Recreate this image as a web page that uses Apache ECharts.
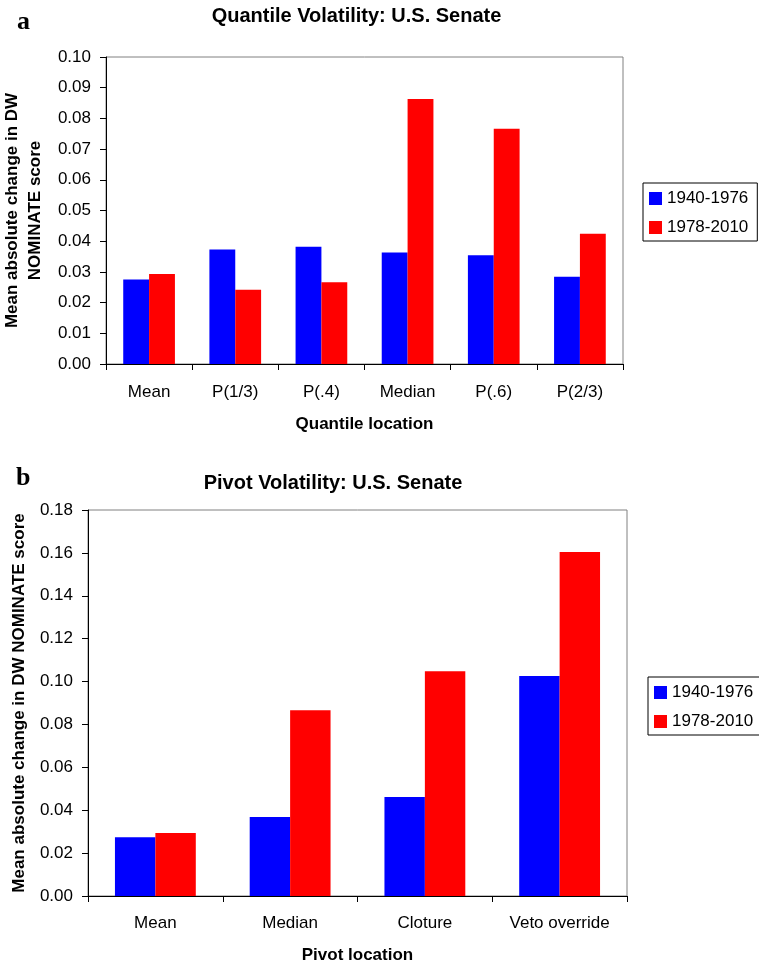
<!DOCTYPE html>
<html>
<head>
<meta charset="utf-8">
<script src="https://cdn.jsdelivr.net/npm/echarts@6/dist/echarts.min.js"></script>
<style>
html,body{margin:0;padding:0;background:#fff;}
#chart{width:759px;height:966px;}
</style>
</head>
<body>
<div id="chart"></div>
<script>
const seriesNames = ['1940-1976', '1978-2010'];
const categoriesA = ['Mean', 'P(1/3)', 'P(.4)', 'Median', 'P(.6)', 'P(2/3)'];
const blueA = [0.0275, 0.0373, 0.0382, 0.0363, 0.0354, 0.0284];
const redA = [0.0293, 0.0242, 0.0266, 0.0863, 0.0766, 0.0424];
const categoriesB = ['Mean', 'Median', 'Cloture', 'Veto override'];
const blueB = [0.0274, 0.0368, 0.0462, 0.1026];
const redB = [0.0294, 0.0866, 0.1048, 0.1604];
const yTicksA = [0, 0.01, 0.02, 0.03, 0.04, 0.05, 0.06, 0.07, 0.08, 0.09, 0.10];
const yTicksB = [0, 0.02, 0.04, 0.06, 0.08, 0.10, 0.12, 0.14, 0.16, 0.18];

const FONT = 'Liberation Sans, Arial, sans-serif';
const chart = echarts.init(document.getElementById('chart'), null, {renderer: 'canvas'});

function xAxisCfg(gi, data, name, margin, gap) {
  return {
    type: 'category', gridIndex: gi, data: data,
    axisLine: {show: true, lineStyle: {color: '#000', width: 1}},
    axisTick: {show: true, length: 6, lineStyle: {color: '#000'}},
    axisLabel: {margin: margin, color: '#000', fontSize: 17, fontFamily: FONT, lineHeight: 20, interval: 0},
    splitLine: {show: false},
    name: name, nameLocation: 'middle', nameGap: gap,
    nameTextStyle: {fontWeight: 'bold', fontSize: 17, color: '#000', fontFamily: FONT, lineHeight: 20}
  };
}
function yAxisCfg(gi, ticks, name, gap, lh) {
  return {
    type: 'value', gridIndex: gi,
    min: ticks[0], max: ticks[ticks.length - 1], interval: ticks[1] - ticks[0],
    axisLine: {show: true, lineStyle: {color: '#000', width: 1}},
    axisTick: {show: true, length: 6, lineStyle: {color: '#000'}},
    axisLabel: {margin: 15, color: '#000', fontSize: 17, fontFamily: FONT, formatter: v => v.toFixed(2)},
    splitLine: {show: false},
    name: name, nameLocation: 'middle', nameGap: gap, nameRotate: 90,
    nameTextStyle: {fontWeight: 'bold', fontSize: 17, color: '#000', fontFamily: FONT, lineHeight: lh, align: 'center'}
  };
}
function legendCfg(left, top) {
  return {
    orient: 'vertical', left: left, top: top, data: seriesNames,
    padding: [7, 9, 5, 6], itemWidth: 13, itemHeight: 13, itemGap: 12, itemTextGap: 5,
    icon: 'rect', borderColor: '#000', borderWidth: 1, backgroundColor: '#fff',
    textStyle: {fontSize: 17, color: '#000', fontFamily: FONT, lineHeight: 17},
    selectedMode: false
  };
}
function barSeries(name, color, xi, data, gapCat) {
  return {
    type: 'bar', name: name, xAxisIndex: xi, yAxisIndex: xi, data: data,
    barGap: '0%', barCategoryGap: gapCat,
    itemStyle: {color: color},
    emphasis: {disabled: true}
  };
}

chart.setOption({
  animation: false,
  backgroundColor: '#fff',
  textStyle: {fontFamily: FONT},
  grid: [
    {left: 106, top: 57, width: 517, height: 307, show: true, borderColor: '#808080', borderWidth: 1, outerBoundsMode: 'none', containLabel: false},
    {left: 88, top: 510, width: 539, height: 386, show: true, borderColor: '#808080', borderWidth: 1, outerBoundsMode: 'none', containLabel: false}
  ],
  xAxis: [
    xAxisCfg(0, categoriesA, 'Quantile location', 18, 50),
    xAxisCfg(1, categoriesB, 'Pivot location', 17, 49)
  ],
  yAxis: [
    yAxisCfg(0, yTicksA, 'Mean absolute change in DW\nNOMINATE score', 56, 23),
    yAxisCfg(1, yTicksB, 'Mean absolute change in DW NOMINATE score', 57, 20)
  ],
  legend: [legendCfg(643, 183), legendCfg(648, 677)],
  series: [
    barSeries(seriesNames[0], '#0000FF', 0, blueA, '40%'),
    barSeries(seriesNames[1], '#FF0000', 0, redA, '40%'),
    barSeries(seriesNames[0], '#0000FF', 1, blueB, '40%'),
    barSeries(seriesNames[1], '#FF0000', 1, redB, '40%')
  ],
  graphic: [
    {type: 'text', x: 17, y: 22.5, style: {text: 'a', font: 'bold 26px "Liberation Serif", "Times New Roman", serif', fill: '#000', align: 'left', verticalAlign: 'middle'}},
    {type: 'text', x: 16, y: 478.5, style: {text: 'b', font: 'bold 26px "Liberation Serif", "Times New Roman", serif', fill: '#000', align: 'left', verticalAlign: 'middle'}},
    {type: 'text', x: 356.5, y: 16.8, style: {text: 'Quantile Volatility: U.S. Senate', font: 'bold 20px "Liberation Sans", Arial, sans-serif', fill: '#000', align: 'center', verticalAlign: 'middle'}},
    {type: 'text', x: 333, y: 483, style: {text: 'Pivot Volatility: U.S. Senate', font: 'bold 20px "Liberation Sans", Arial, sans-serif', fill: '#000', align: 'center', verticalAlign: 'middle'}}
  ]
});
</script>
</body>
</html>
